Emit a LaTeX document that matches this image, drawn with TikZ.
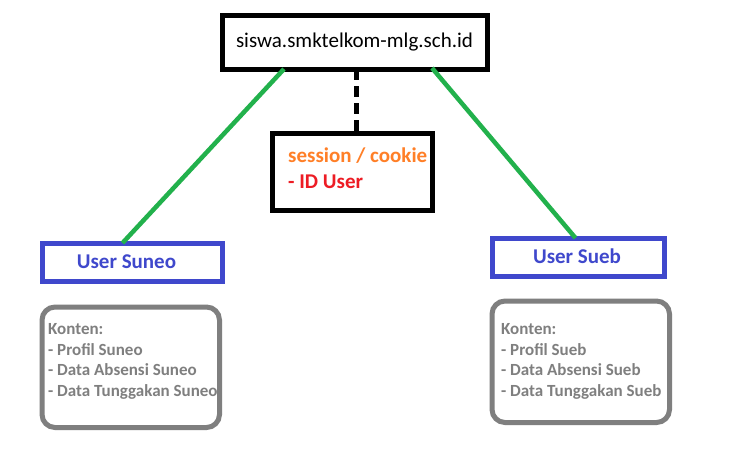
\documentclass[tikz,border=0pt]{standalone}
\usepackage{fontspec}
\setmainfont{Carlito}
\definecolor{pgreen}{HTML}{22B14C}
\definecolor{pblue}{HTML}{3F48CC}
\definecolor{pgray}{HTML}{7F7F7F}
\definecolor{porange}{HTML}{FF7F27}
\definecolor{pred}{HTML}{ED1C24}
\begin{document}
\begin{tikzpicture}[x=1pt,y=-1pt,
  blackbox/.style={draw=black,line width=5pt,inner sep=0pt},
  userbox/.style={draw=pblue,line width=5pt,inner sep=0pt},
  contentbox/.style={draw=pgray,line width=5pt,rounded corners=13pt,inner sep=0pt},
  link/.style={draw=pgreen,line width=4.5pt},
  sesslink/.style={draw=black,line width=5pt,dash pattern=on 11pt off 6pt},
  bigtxt/.style={inner sep=0pt,font=\fontsize{21}{25}\selectfont\bfseries},
  ctxt/.style={inner sep=0pt,font=\fontsize{17}{20.7}\selectfont\bfseries,text=pgray,anchor=base west}
]
\useasboundingbox[fill=white] (0,0) rectangle (745,466);

\node[blackbox,minimum width=265pt,minimum height=53.7pt] (top) at (355,42.6) {};
\node[inner sep=0pt,anchor=base,font=\fontsize{21}{25}\selectfont] (toptxt) at (354.5,47) {siswa.smktelkom-mlg.sch.id};

\node[blackbox,minimum width=160pt,minimum height=77pt] (sess) at (352.5,172) {};
\node[bigtxt,anchor=base west,text=porange] (s1) at (288,162.5) {session / cookie};
\node[bigtxt,anchor=base west,text=pred] (s2) at (288,188) {- ID User};

\node[userbox,minimum width=180pt,minimum height=37.5pt] (u1) at (132.5,262.7) {};
\node[bigtxt,anchor=base,text=pblue] (u1t) at (126.5,268.5) {User Suneo};
\node[userbox,minimum width=172pt,minimum height=37.5pt] (u2) at (578.5,257.7) {};
\node[bigtxt,anchor=base,text=pblue] (u2t) at (577,263.5) {User Sueb};

\node[contentbox,minimum width=177.5pt,minimum height=120.5pt] (c1) at (130.75,367.25) {};
\node[ctxt] (c1a) at (48,334.5) {Konten:};
\node[ctxt] (c1b) at (48,355.2) {- Profil Suneo};
\node[ctxt] (c1c) at (48,375.9) {- Data Absensi Suneo};
\node[ctxt] (c1d) at (48,396.6) {- Data Tunggakan Suneo};
\node[contentbox,minimum width=177.5pt,minimum height=121.5pt] (c2) at (580.75,361.75) {};
\node[ctxt] (c2a) at (501,334.5) {Konten:};
\node[ctxt] (c2b) at (501,355.2) {- Profil Sueb};
\node[ctxt] (c2c) at (501,375.9) {- Data Absensi Sueb};
\node[ctxt] (c2d) at (501,396.6) {- Data Tunggakan Sueb};

\coordinate (tl) at (284,69);
\coordinate (tr) at (432,68);
\coordinate (tm) at (356,69);
\coordinate (u1top) at (122.5,243);
\coordinate (u2top) at (575.5,238);
\coordinate (smid) at (356,133.5);
\draw[link] (tl) -- (u1top);
\draw[link] (tr) -- (u2top);
\draw[sesslink] (tm) -- (smid);
\end{tikzpicture}
\end{document}
